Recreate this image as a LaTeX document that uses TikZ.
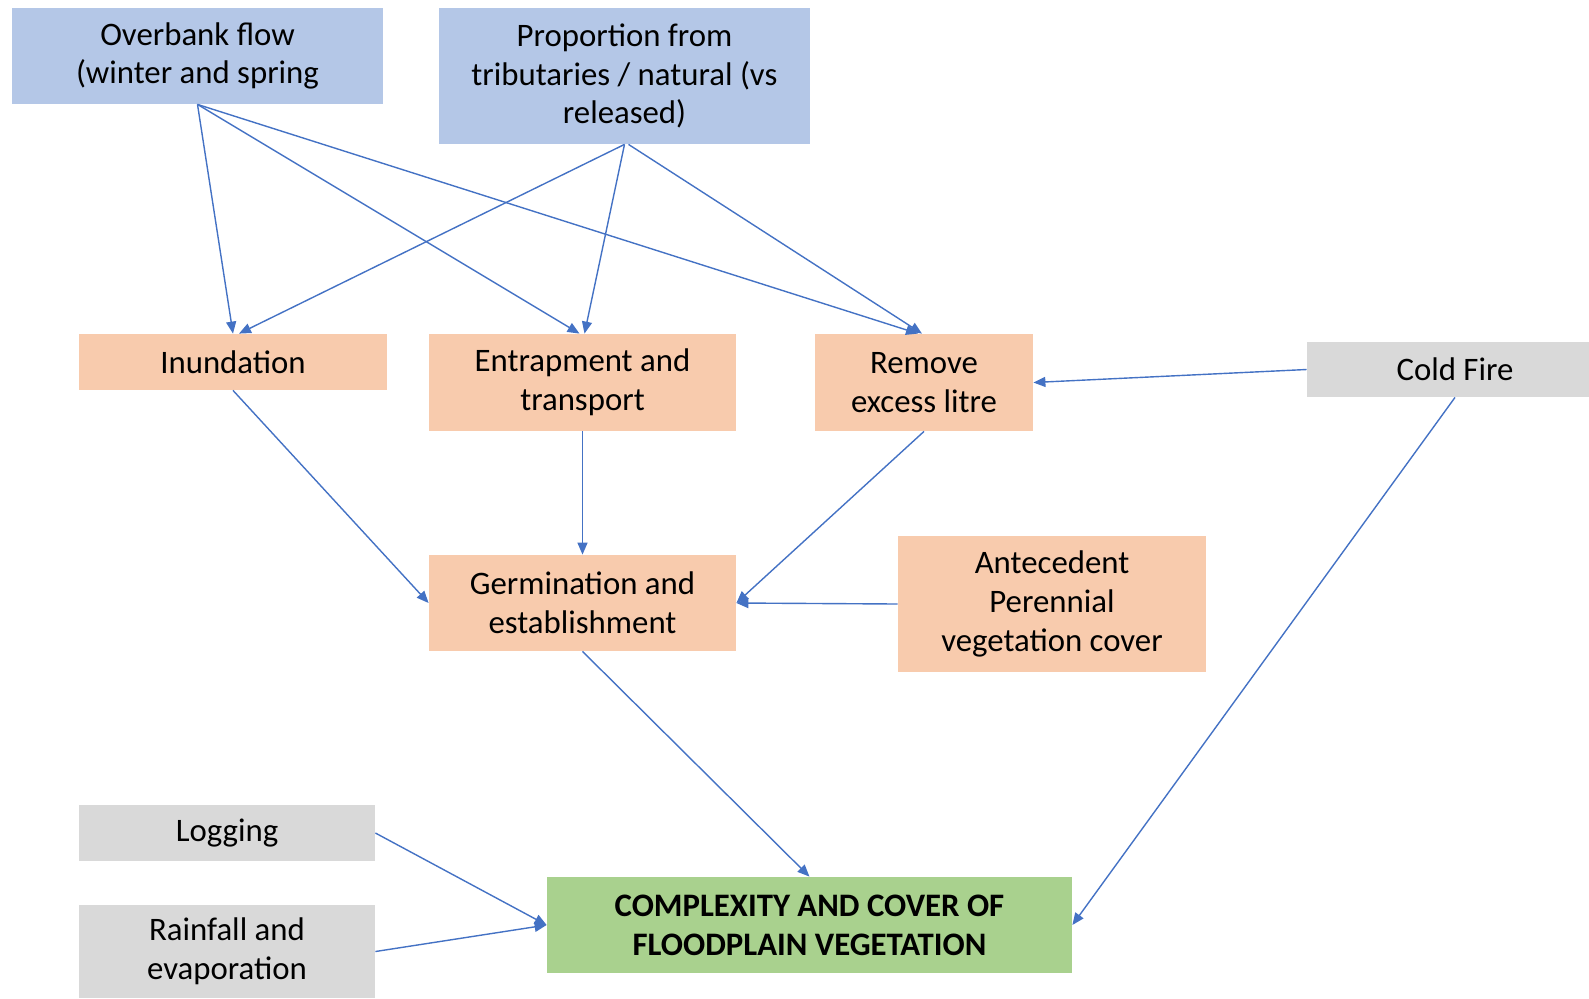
\documentclass[tikz,border=0pt]{standalone}
\usepackage{fontspec}
\setmainfont{Carlito}
\usetikzlibrary{arrows.meta,positioning,calc}
\definecolor{BoxBlue}{HTML}{B4C7E7}
\definecolor{BoxOrange}{HTML}{F8CBAD}
\definecolor{BoxGrey}{HTML}{D9D9D9}
\definecolor{BoxGreen}{HTML}{A9D18E}
\definecolor{LinkBlue}{HTML}{4472C4}
\tikzset{
  box/.style={rectangle, inner sep=0pt, align=center,
    font=\fontsize{16.4}{19.4}\selectfont},
  driver/.style={box, fill=BoxBlue},
  process/.style={box, fill=BoxOrange},
  outside/.style={box, fill=BoxGrey},
  outcome/.style={box, fill=BoxGreen, font=\fontsize{16.4}{19.4}\selectfont\bfseries},
  link/.style={draw=LinkBlue, line width=0.7pt,
    -{Triangle[length=6pt,width=5pt]}}
}

\begin{document}
\begin{tikzpicture}[x=0.5pt, y=-0.5pt]
  \useasboundingbox (0,0) rectangle (1589,998);

  % drivers
  \node[driver, minimum width=185.5pt, minimum height=48pt] (overbank) at (197.5,56)
    {Overbank flow\\(winter and spring};
  \node[driver, minimum width=185.5pt, minimum height=68pt] (tribs) at (624.5,76)
    {Proportion from\\tributaries / natural (vs\\released)};

  % processes
  \node[process, minimum width=154pt, minimum height=28pt] (inundation) at (233,362)
    {Inundation};
  \node[process, minimum width=153.5pt, minimum height=48.5pt] (entrapment) at (582.5,382.5)
    {Entrapment and\\transport};
  \node[process, minimum width=109pt, minimum height=48.5pt] (litre) at (924,382.5)
    {Remove\\excess litre};
  \node[outside, minimum width=148pt, minimum height=27.5pt] (coldfire) at (1455,369.5)
    {Cold Fire};
  \node[process, minimum width=153.5pt, minimum height=48pt] (germination) at (582.5,603)
    {Germination and\\establishment};
  \node[process, minimum width=154pt, minimum height=68pt] (perennial) at (1052,604)
    {Antecedent\\Perennial\\vegetation cover};

  % bottom row
  \node[outside, minimum width=148pt, minimum height=28pt] (logging) at (227,833)
    {Logging};
  \node[outside, minimum width=148pt, minimum height=46.5pt] (rainfall) at (227,951.5)
    {Rainfall and\\evaporation};
  \node[outcome, minimum width=262.5pt, minimum height=48pt] (complexity) at (809.5,925)
    {COMPLEXITY AND COVER OF\\FLOODPLAIN VEGETATION};

  \draw[link] (overbank.south) -- (inundation.north);
  \draw[link] (overbank.south) -- ([xshift=-1.5pt]entrapment.north);
  \draw[link] (overbank.south) -- ([xshift=-3pt]litre.north);
  \draw[link] (tribs.south) -- ([xshift=3pt]inundation.north);
  \draw[link] (tribs.south) -- ([xshift=1pt]entrapment.north);
  \draw[link] ([xshift=2pt]tribs.south) -- ([xshift=-1pt]litre.north);
  \draw[link] (coldfire.west) -- (litre.east);
  \draw[link] (coldfire.south) -- (complexity.east);
  \draw[link] (inundation.south) -- (germination.west);
  \draw[link] (entrapment.south) -- (germination.north);
  \draw[link] (litre.south) -- (germination.east);
  \draw[link] (perennial.west) -- (germination.east);
  \draw[link] (germination.south) -- (complexity.north);
  \draw[link] (logging.east) -- (complexity.west);
  \draw[link] (rainfall.east) -- (complexity.west);
\end{tikzpicture}
\end{document}
